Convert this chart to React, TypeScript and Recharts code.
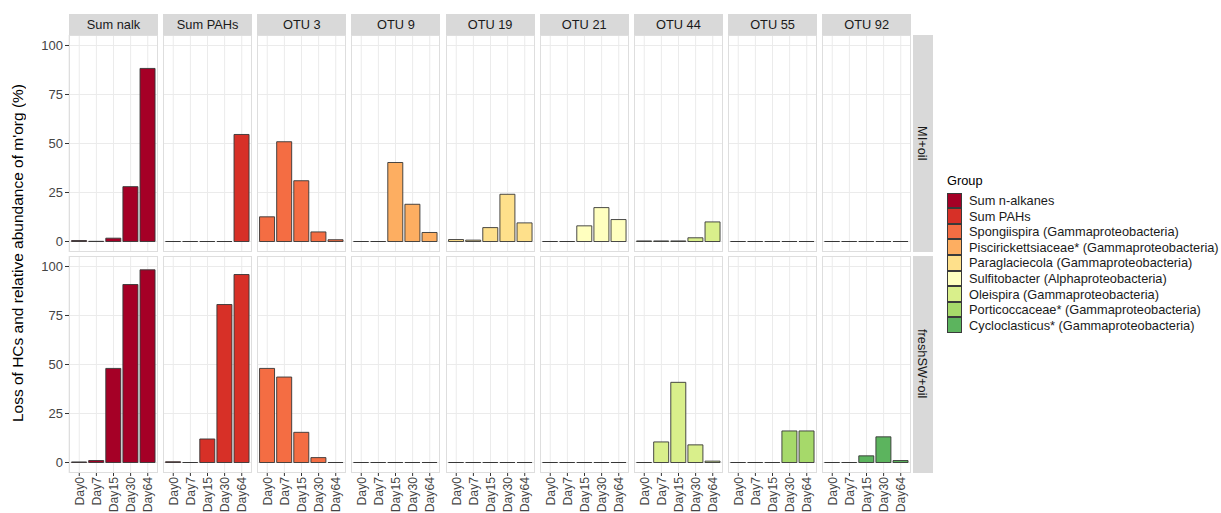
import React from 'react';
import { BarChart, Bar, XAxis, YAxis, CartesianGrid } from 'recharts';

const FONT = "'Liberation Sans', Arial, Helvetica, sans-serif";

const days = ['Day0', 'Day7', 'Day15', 'Day30', 'Day64'];
const facetLabels = ['Sum nalk', 'Sum PAHs', 'OTU 3', 'OTU 9', 'OTU 19', 'OTU 21', 'OTU 44', 'OTU 55', 'OTU 92'];
const rowLabels = ['MI+oil', 'freshSW+oil'];
const groupLabels = [
  'Sum n-alkanes',
  'Sum PAHs',
  'Spongiispira (Gammaproteobacteria)',
  'Piscirickettsiaceae* (Gammaproteobacteria)',
  'Paraglaciecola (Gammaproteobacteria)',
  'Sulfitobacter (Alphaproteobacteria)',
  'Oleispira (Gammaproteobacteria)',
  'Porticoccaceae* (Gammaproteobacteria)',
  'Cycloclasticus* (Gammaproteobacteria)',
];
const groupColors = ['#A50026', '#D73027', '#F46D43', '#FDAE61', '#FEE08B', '#FFFFBF', '#D9EF8B', '#A6D96A', '#5CB45E'];
const yTicks = [0, 25, 50, 75, 100];

// MI+oil row
const miSumNalk = [0.5, 0.1, 1.7, 28.0, 88.3];
const miSumPAHs = [0, 0, 0, 0, 54.6];
const miOtu3 = [12.6, 50.9, 31.0, 4.9, 0.9];
const miOtu9 = [0, 0, 40.3, 19.0, 4.6];
const miOtu19 = [1.0, 0.7, 7.1, 24.1, 9.5];
const miOtu21 = [0, 0, 8.0, 17.3, 11.2];
const miOtu44 = [0.3, 0.3, 0.3, 1.9, 10.0];
const miOtu55 = [0, 0, 0, 0, 0];
const miOtu92 = [0, 0, 0, 0, 0];

// freshSW+oil row
const frSumNalk = [0.3, 1.0, 48.0, 90.8, 98.3];
const frSumPAHs = [0.4, 0, 12.0, 80.6, 95.9];
const frOtu3 = [48.0, 43.6, 15.4, 2.5, 0];
const frOtu9 = [0, 0, 0, 0, 0];
const frOtu19 = [0, 0, 0, 0, 0];
const frOtu21 = [0, 0, 0, 0, 0];
const frOtu44 = [0, 10.5, 40.9, 9.0, 0.7];
const frOtu55 = [0, 0, 0, 16.1, 16.1];
const frOtu92 = [0, 0, 3.4, 13.1, 1.0];

const rowValues = [
  [miSumNalk, miSumPAHs, miOtu3, miOtu9, miOtu19, miOtu21, miOtu44, miOtu55, miOtu92],
  [frSumNalk, frSumPAHs, frOtu3, frOtu9, frOtu19, frOtu21, frOtu44, frOtu55, frOtu92],
];

// layout
const PANEL_X0 = 69;
const PANEL_STEP = 94.15;
const PANEL_W = 89;
const PANEL_H = 217;
const ROW_TOP = [34.5, 255.5];
const STRIP_TOP = 14;
const STRIP_H = 20.5;
const Y_AXIS_W = 40;
const X_AXIS_H = 40;

const BarShape = (props: any) => {
  const { x, y, width, height, fill } = props;
  if (x == null || y == null || width == null) return null;
  const h = height || 0;
  const d = `M${x},${y}h${width}v${h}h${-width}Z`;
  return <path d={d} fill={fill} stroke="#363636" strokeWidth={0.9} />;
};

const DayTick = (props: any) => {
  const { x, y, payload } = props;
  return (
    <text
      transform={`translate(${x},${y}) rotate(-90)`}
      textAnchor="end"
      dy="0.36em"
      fontSize={12.2}
      fill="#444444"
      fontFamily={FONT}
    >
      {payload.value}
    </text>
  );
};

function Panel({ values, color, col, row }: { values: number[]; color: string; col: number; row: number }) {
  const data = days.map((d, i) => ({ day: d, value: values[i] }));
  const isLeft = col === 0;
  const isBottom = row === 1;
  const panelLeft = PANEL_X0 + col * PANEL_STEP;
  const left = panelLeft - (isLeft ? Y_AXIS_W : 0);
  const top = ROW_TOP[row];
  const width = PANEL_W + (isLeft ? Y_AXIS_W : 0);
  const height = PANEL_H + (isBottom ? X_AXIS_H : 0);
  return (
    <>
      <div style={{ position: 'absolute', left, top, width, height }}>
        <BarChart
          width={width}
          height={height}
          data={data}
          margin={{ top: 0, right: 0, bottom: 0, left: 0 }}
          barCategoryGap="5%"
          style={{ fontFamily: FONT }}
        >
          <CartesianGrid stroke="#EBEBEB" strokeWidth={1} horizontalValues={yTicks} />
          <XAxis
            dataKey="day"
            type="category"
            hide={!isBottom}
            height={X_AXIS_H}
            padding={{ left: 1.7, right: 1.7 }}
            axisLine={false}
            tickLine={{ stroke: '#333333' }}
            tickSize={3}
            tickMargin={1}
            interval={0}
            tick={<DayTick />}
          />
          <YAxis
            type="number"
            domain={[-5.35, 105.35]}
            ticks={yTicks}
            allowDataOverflow
            hide={!isLeft}
            width={Y_AXIS_W}
            axisLine={false}
            tickLine={{ stroke: '#333333' }}
            tickSize={4}
            tickMargin={2}
            tick={{ fontSize: 13, fill: '#444444', fontFamily: FONT }}
          />
          <Bar dataKey="value" fill={color} isAnimationActive={false} shape={BarShape} />
        </BarChart>
      </div>
      <div
        style={{
          position: 'absolute',
          left: panelLeft,
          top,
          width: PANEL_W,
          height: PANEL_H,
          border: '1px solid #DEDEDE',
          boxSizing: 'border-box',
          pointerEvents: 'none',
        }}
      />
    </>
  );
}

export default function App() {
  return (
    <div
      style={{
        position: 'absolute',
        left: 0,
        top: 0,
        width: 1221,
        height: 513,
        background: '#FFFFFF',
        fontFamily: FONT,
        overflow: 'hidden',
      }}
    >
      {/* top strips */}
      {facetLabels.map((lab, i) => (
        <div
          key={'s' + i}
          style={{
            position: 'absolute',
            left: PANEL_X0 + i * PANEL_STEP,
            top: STRIP_TOP,
            width: PANEL_W,
            height: STRIP_H,
            background: '#D9D9D9',
            color: '#1A1A1A',
            fontSize: 12.8,
            display: 'flex',
            alignItems: 'center',
            justifyContent: 'center',
          }}
        >
          {lab}
        </div>
      ))}
      {/* right strips */}
      {rowLabels.map((lab, r) => (
        <div
          key={'r' + r}
          style={{
            position: 'absolute',
            left: PANEL_X0 + 8 * PANEL_STEP + PANEL_W + 1.5,
            top: ROW_TOP[r],
            width: 20,
            height: PANEL_H,
            background: '#D9D9D9',
            color: '#1A1A1A',
            fontSize: 12.8,
            display: 'flex',
            alignItems: 'center',
            justifyContent: 'center',
          }}
        >
          <span style={{ writingMode: 'vertical-rl' }}>{lab}</span>
        </div>
      ))}
      {/* panels */}
      {rowValues.map((vals, r) =>
        vals.map((v, c) => <Panel key={r + '-' + c} values={v} color={groupColors[c]} col={c} row={r} />)
      )}
      {/* y axis title */}
      <div
        style={{
          position: 'absolute',
          left: 2,
          top: ROW_TOP[0],
          width: 32,
          height: ROW_TOP[1] + PANEL_H - ROW_TOP[0],
          display: 'flex',
          alignItems: 'center',
          justifyContent: 'center',
          fontSize: 15.5,
          color: '#000000',
        }}
      >
        <span style={{ writingMode: 'vertical-rl', transform: 'rotate(180deg)', whiteSpace: 'nowrap' }}>
          Loss of HCs and relative abundance of m'org (%)
        </span>
      </div>
      {/* legend */}
      <div style={{ position: 'absolute', left: 947, top: 173, fontSize: 12.8, color: '#000000' }}>Group</div>
      <div style={{ position: 'absolute', left: 947, top: 192.7 }}>
        {groupLabels.map((lab, i) => (
          <div key={'l' + i} style={{ display: 'flex', alignItems: 'center', height: 15.6 }}>
            <div
              style={{
                width: 14.5,
                height: 15.6,
                background: groupColors[i],
                border: '0.8px solid #3a3a3a',
                boxSizing: 'border-box',
              }}
            />
            <span style={{ marginLeft: 7.5, fontSize: 12.8, color: '#1A1A1A', whiteSpace: 'nowrap' }}>{lab}</span>
          </div>
        ))}
      </div>
    </div>
  );
}
